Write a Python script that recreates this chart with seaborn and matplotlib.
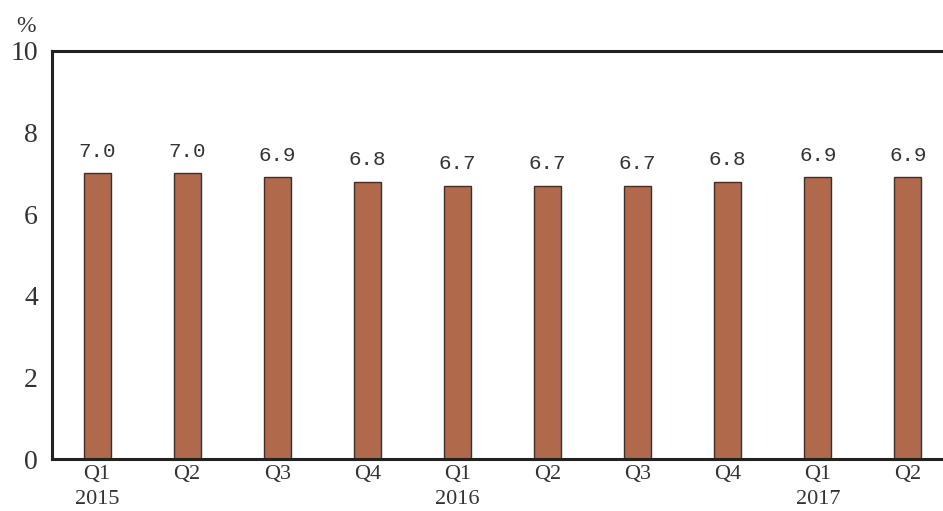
import matplotlib
matplotlib.use("Agg")
import matplotlib.pyplot as plt
import matplotlib.transforms as mtransforms
import seaborn as sns
import pandas as pd

quarters = ["Q1", "Q2", "Q3", "Q4", "Q1", "Q2", "Q3", "Q4", "Q1", "Q2"]
years = ["2015", "", "", "", "2016", "", "", "", "2017", ""]
growth = [7.0, 7.0, 6.9, 6.8, 6.7, 6.7, 6.7, 6.8, 6.9, 6.9]

df = pd.DataFrame({"pos": range(len(growth)), "growth": growth})

sns.set_style("white")
plt.rcParams["font.family"] = ["Liberation Serif", "DejaVu Serif"]

fig = plt.figure(figsize=(9.43, 5.11), dpi=100)
ax = fig.add_axes([52 / 943, 52 / 511, 1 - 52 / 943, 408 / 511])

sns.barplot(data=df, x="pos", y="growth", color="#B0694A", width=0.3,
            edgecolor="#333333", linewidth=1.0, saturation=1, ax=ax)

for i, v in enumerate(growth):
    ax.text(i, v + 0.3, f"{v:.1f}", ha="center", va="bottom",
            fontsize=15, family="Liberation Mono", color="#333333")

ax.set_xlim(-0.5, 9.39)
ax.set_ylim(0, 10)
ax.set_yticks([0, 2, 4, 6, 8, 10])
ax.set_xticks(range(len(quarters)))
ax.set_xticklabels(quarters, fontsize=16)
ax.tick_params(axis="y", labelsize=20, direction="in", length=5, width=0.8,
               pad=10, labelcolor="#333333")
ax.tick_params(axis="x", length=0, pad=4, labelcolor="#333333")
ax.set_xlabel("")
ax.set_ylabel("")

trans = mtransforms.blended_transform_factory(ax.transData, ax.transAxes)
for i, y in enumerate(years):
    if y:
        ax.text(i, -0.075, y, transform=trans, ha="center", va="top",
                fontsize=16, color="#333333")

ax.text(-0.029, 1.035, "%", transform=ax.transAxes, ha="center", va="bottom",
        fontsize=17, color="#333333")

for side in ["left", "top", "bottom"]:
    ax.spines[side].set_visible(True)
    ax.spines[side].set_color("#222222")
    ax.spines[side].set_linewidth(2.2)
ax.spines["right"].set_visible(False)

fig.savefig("out.png", dpi=100)
